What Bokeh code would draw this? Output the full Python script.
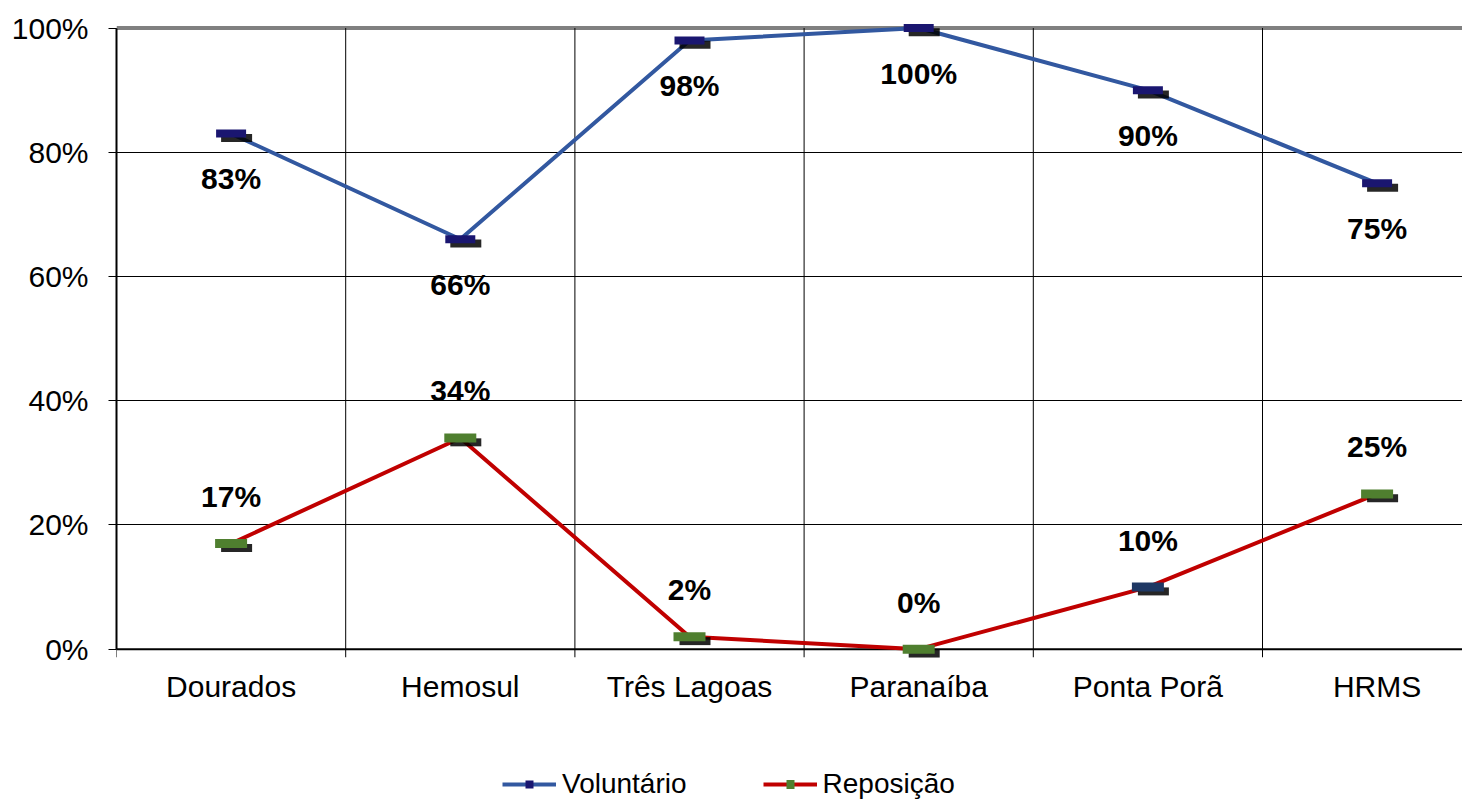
from bokeh.plotting import figure
from bokeh.models import (Range1d, FixedTicker, NumeralTickFormatter, Span, Legend,
                          LegendItem, ColumnDataSource)
from bokeh.transform import dodge
from bokeh.core.properties import value
from bokeh.embed import file_html
from bokeh.resources import INLINE

categories = ["Dourados", "Hemosul", "Três Lagoas", "Paranaíba", "Ponta Porã", "HRMS"]
voluntario = [0.83, 0.66, 0.98, 1.00, 0.90, 0.75]
reposicao = [0.17, 0.34, 0.02, 0.00, 0.10, 0.25]
y_ticks = [0.0, 0.2, 0.4, 0.6, 0.8, 1.0]
reposicao_marker_colors = ["#4f7f2f", "#4f7f2f", "#4f7f2f", "#4f7f2f", "#1f3864", "#4f7f2f"]

FONT = "Liberation Sans"

x = [i + 0.5 for i in range(len(categories))]
bounds = list(range(len(categories) + 1))

src = ColumnDataSource(dict(
    x=x, vol=voluntario, rep=reposicao, rep_color=reposicao_marker_colors,
    vol_label=[f"{round(v * 100)}%" for v in voluntario],
    rep_label=[f"{round(v * 100)}%" for v in reposicao],
    cat=categories, base=[y_ticks[0]] * len(categories),
))

cat_px = 229.2
frame_w = 1346
p = figure(frame_width=frame_w, frame_height=780,
           x_range=Range1d(0, frame_w / cat_px), y_range=Range1d(-0.2436, 1.0121),
           output_backend="svg", toolbar_location=None,
           min_border_left=116, min_border_right=0, min_border_top=20, min_border_bottom=0,
           outline_line_color=None, background_fill_color="white", border_fill_color="white")

p.xaxis.visible = False

ya = p.yaxis[0]
ya.ticker = FixedTicker(ticks=y_ticks, minor_ticks=[])
ya.formatter = NumeralTickFormatter(format="0%")
ya.bounds = (0, 1)
ya.major_tick_out = 8
ya.major_tick_in = 0
ya.major_tick_line_color = "black"
ya.minor_tick_line_color = None
ya.axis_line_width = 2
ya.axis_line_color = "black"
ya.major_label_text_font = FONT
ya.major_label_text_font_size = "30px"
ya.major_label_text_color = "black"
ya.major_label_standoff = 20

p.xgrid.visible = False
p.ygrid.ticker = FixedTicker(ticks=y_ticks[1:-1])
p.ygrid.grid_line_color = "black"
p.ygrid.grid_line_width = 1

# vertical category separators (grid + outward tick)
p.segment(x0=bounds, y0=[-0.013] * len(bounds), x1=bounds, y1=[y_ticks[-1]] * len(bounds),
          line_color="black", line_width=1)

p.add_layout(Span(location=y_ticks[0], dimension="width", line_color="black",
                  line_width=2, level="underlay"))
p.add_layout(Span(location=y_ticks[-1], dimension="width", line_color="#808080",
                  line_width=4, level="underlay"))

# category labels under the axis
p.text("x", "base", text="cat", source=src, text_align="center", text_baseline="middle",
       y_offset=37, text_font=value(FONT), text_font_size="30px", text_color="black")

# series
vol_line = p.line("x", "vol", source=src, line_color="#3258a0", line_width=4)
rep_line = p.line("x", "rep", source=src, line_color="#c00000", line_width=4)

p.scatter(x=dodge("x", 0.024), y=dodge("vol", -0.007), source=src, marker="dash",
          size=31, line_width=8, line_color="black", line_alpha=0.85)
p.scatter(x=dodge("x", 0.024), y=dodge("rep", -0.007), source=src, marker="dash",
          size=31, line_width=8, line_color="black", line_alpha=0.85)
vol_mk = p.scatter("x", "vol", source=src, marker="dash", size=30, line_width=8,
                   line_color="#1a1670")
rep_mk = p.scatter("x", "rep", source=src, marker="dash", size=32, line_width=9,
                   line_color="rep_color")

p.text("x", "vol", text="vol_label", source=src, text_align="center", text_baseline="middle",
       y_offset=45, text_font=value(FONT), text_font_style="bold", text_font_size="30px",
       text_color="black")
p.text("x", "rep", text="rep_label", source=src, text_align="center", text_baseline="middle",
       y_offset=-47, text_font=value(FONT), text_font_style="bold", text_font_size="30px",
       text_color="black")

legend = Legend(items=[LegendItem(label="Voluntário", renderers=[vol_line, vol_mk]),
                       LegendItem(label="Reposição", renderers=[rep_line, rep_mk])],
                orientation="horizontal", location=(386, 0),
                label_text_font=FONT, label_text_font_size="28px", label_text_color="black",
                glyph_width=54, glyph_height=20, spacing=76, label_standoff=6,
                padding=0, margin=0, border_line_color=None, background_fill_alpha=0)
p.add_layout(legend, "center")

open("out.html", "w").write(file_html(p, INLINE))
